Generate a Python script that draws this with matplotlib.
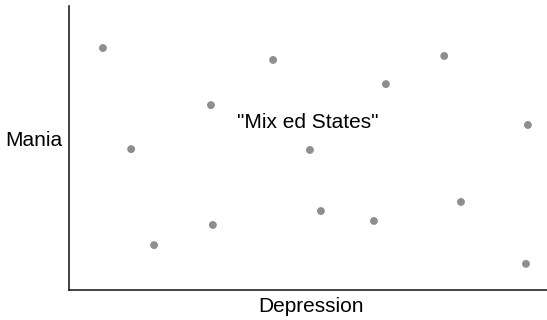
import matplotlib.pyplot as plt

# scatter points (arbitrary 0-100 scale)
depression = [7.1, 13.0, 17.8, 29.7, 30.1, 42.7, 50.4, 52.7, 63.8, 66.3, 78.5, 82.0, 96.0, 95.6]
mania = [85.2, 49.6, 15.8, 65.1, 22.9, 81.0, 49.3, 27.8, 24.3, 72.5, 82.4, 31.0, 58.1, 9.2]

plt.rcParams['font.family'] = ['Liberation Sans', 'DejaVu Sans']

fig = plt.figure(figsize=(5.47, 3.2), dpi=100)
ax = fig.add_axes([69 / 547, 30 / 320, 478 / 547, 284 / 320])

ax.scatter(depression, mania, s=32, color='#8e8e90', edgecolors='none', zorder=3)
ax.text(50.0, 57.0, '"Mix ed States"', ha='center', va='baseline', fontsize=15)

ax.set_xlim(0, 100)
ax.set_ylim(0, 100)
ax.set_xticks([])
ax.set_yticks([])
for side in ['top', 'right']:
    ax.spines[side].set_visible(False)
for side in ['left', 'bottom']:
    ax.spines[side].set_linewidth(1.2)
    ax.spines[side].set_color('#222222')

ax.set_xlabel('Depression', fontsize=15, va='baseline')
ax.xaxis.set_label_coords(0.506, -0.0775)
ax.set_ylabel('Mania', fontsize=15, rotation=0, ha='right', va='baseline')
ax.yaxis.set_label_coords(-7 / 478, 0.507)

fig.savefig('out.png', dpi=100)
